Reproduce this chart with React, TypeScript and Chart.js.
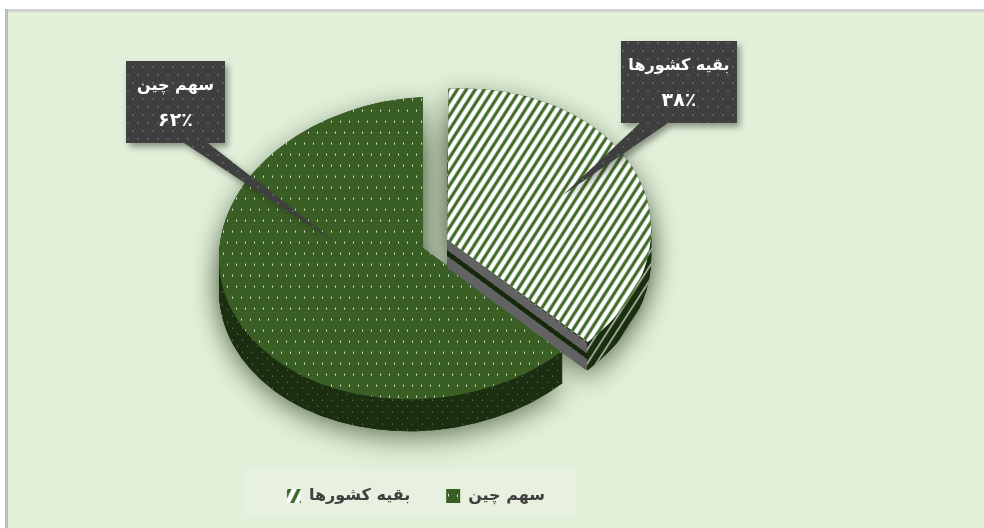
import React, { useEffect, useRef } from "react";
import { Chart, registerables } from "chart.js";

Chart.register(...registerables);

const categories = ["سهم چین", "بقیه کشورها"];
const shares = [62, 38];

const TILT = 0.74;
const SHEAR = -0.05;
const DEPTH = [32, 28];
const BG = "#e2efd9";
const FONT = "'DejaVu Sans'";

function tile(w: number, h: number, paint: (c: CanvasRenderingContext2D) => void) {
  const cv = document.createElement("canvas");
  cv.width = w;
  cv.height = h;
  const c = cv.getContext("2d")!;
  paint(c);
  return cv;
}

function dots(base: string, dot: string, w: number, h: number, dw: number, dh: number) {
  return tile(w, h, (c) => {
    c.fillStyle = base;
    c.fillRect(0, 0, w, h);
    c.fillStyle = dot;
    c.fillRect(2, 2, dw, dh);
    c.fillRect(2 + Math.round(w / 2), 2 + Math.round(h / 2), dw, dh);
  });
}

function stripes(base: string, line: string, lw: number) {
  const W = 27, H = 42;
  return tile(W, H, (c) => {
    c.fillStyle = base;
    c.fillRect(0, 0, W, H);
    c.strokeStyle = line;
    c.lineWidth = lw;
    for (let k = -3; k <= 6; k++) {
      const s = (k * W) / 3;
      c.beginPath();
      c.moveTo(s - W, H * 2);
      c.lineTo(s + W * 2, -H);
      c.stroke();
    }
  });
}

function App() {
  const ref = useRef<HTMLCanvasElement>(null);
  useEffect(() => {
    const ctx = ref.current!.getContext("2d")!;
    const flat = new DOMMatrix([1, SHEAR, 0, TILT, 0, 0]).inverse();
    const mk = (cv: HTMLCanvasElement, tilted = true) => {
      const p = ctx.createPattern(cv, "repeat")!;
      if (tilted) p.setTransform(flat);
      return p;
    };
    const topGreen = mk(dots("#3a5f24", "rgba(255,255,255,0.85)", 9, 22, 1, 2));
    const topWhite = mk(stripes("#ffffff", "#3f6a28", 3.2));
    const sideGreen = mk(dots("#1b2f10", "rgba(200,210,190,0.55)", 10, 12, 1, 1));
    const sideWhite = mk(stripes("#1b2f10", "#c8d4c0", 1.4));
    const boxFill = mk(dots("#3f3f3f", "#5c5c5c", 10, 16, 2, 2), false);

    const tilted = {
      id: "tilted",
      afterLayout(chart: any) {
        chart.legend.left -= 7;
        chart.legend.right -= 7;
      },
      beforeDraw(chart: any) {
        const c = chart.ctx;
        c.save();
        c.fillStyle = "#ffffff";
        c.fillRect(0, 0, 984, 528);
        c.fillStyle = "#d2d2d2";
        c.fillRect(5, 9, 979, 3);
        c.fillStyle = "#bdbdbd";
        c.fillRect(5, 9, 3, 519);
        c.fillStyle = BG;
        c.fillRect(8, 12, 976, 516);
        c.fillStyle = "#e8f1e0";
        c.fillRect(245, 470, 332, 46);
        c.restore();
      },
      beforeDatasetsDraw(chart: any) {
        const c = chart.ctx;
        const arcs = chart.getDatasetMeta(0).data;
        const cx = arcs[0].x;
        const cy = arcs[0].y;
        const paint = (el: any, color: any, dy: number) => {
          const o = el.options.offset || 0;
          const fix = 1 - Math.sin(Math.min(Math.PI, el.circumference || 0));
          const p = Object.create(el);
          p.options = { ...el.options, backgroundColor: color, borderWidth: 0 };
          p.y = el.y + dy / TILT;
          p.outerRadius = el.outerRadius - (o / 4) * fix;
          el.draw.call(p, c);
        };
        c.save();
        c.translate(cx, cy);
        c.transform(1, SHEAR, 0, TILT, 0, 0);
        c.translate(-cx, -cy);

        arcs.forEach((el: any, i: number) => {
          c.save();
          c.shadowColor = "rgba(40,60,30,0.6)";
          c.shadowBlur = 26;
          c.shadowOffsetY = 8;
          paint(el, "#1b2f10", DEPTH[i]);
          paint(el, "#1b2f10", 0);
          c.restore();
        });

        const [green, white] = arcs;
        for (let d = DEPTH[0]; d > 0; d--) paint(green, sideGreen, d);
        paint(green, topGreen, 0);

        for (let d = DEPTH[1]; d > 0; d--) paint(white, sideWhite, d);
        // cut face of the exploded slice, from the arc element's own geometry
        const o = white.options.offset / 4;
        const mid = (white.startAngle + white.endAngle) / 2;
        const ax = white.x + Math.cos(mid) * o;
        const ay = white.y + Math.sin(mid) * o;
        const tx = ax + Math.cos(white.endAngle) * white.outerRadius;
        const ty = ay + Math.sin(white.endAngle) * white.outerRadius;
        const band = (from: number, to: number, col: string) => {
          const f = (from * DEPTH[1]) / TILT;
          const t = (to * DEPTH[1]) / TILT;
          c.fillStyle = col;
          c.beginPath();
          c.moveTo(ax, ay + f);
          c.lineTo(tx, ty + f);
          c.lineTo(tx, ty + t);
          c.lineTo(ax, ay + t);
          c.closePath();
          c.fill();
        };
        band(0, 0.38, "#626262");
        band(0.38, 0.58, "#16280c");
        band(0.58, 1, "#626262");
        paint(white, topWhite, 0);
        c.restore();
        return false;
      },
      afterDraw(chart: any) {
        const c = chart.ctx;
        const persian = (v: number) => String(v).replace(/\d/g, (d) => "۰۱۲۳۴۵۶۷۸۹"[+d]);
        const callout = (i: number, x0: number, y0: number, x1: number, y1: number, b0: number, b1: number, tipX: number, tipY: number) => {
          c.save();
          c.shadowColor = "rgba(30,40,25,0.45)";
          c.shadowBlur = 6;
          c.shadowOffsetX = 3;
          c.shadowOffsetY = 4;
          c.fillStyle = boxFill;
          c.beginPath();
          c.moveTo(x0, y0);
          c.lineTo(x1, y0);
          c.lineTo(x1, y1);
          c.lineTo(b1, y1);
          c.lineTo(tipX, tipY);
          c.lineTo(b0, y1);
          c.lineTo(x0, y1);
          c.closePath();
          c.fill();
          c.restore();
          c.save();
          c.fillStyle = "#ffffff";
          c.textAlign = "center";
          c.textBaseline = "middle";
          c.direction = "rtl";
          const mx = (x0 + x1) / 2;
          c.font = `bold 16px ${FONT}`;
          c.fillText(categories[i], mx, y0 + 25);
          c.font = `bold 19px ${FONT}`;
          c.fillText(`${persian(shares[i])}٪`, mx, y0 + 60);
          c.restore();
        };
        callout(0, 126, 61, 225, 143, 184, 208, 335, 242);
        callout(1, 621, 41, 737, 123, 640, 668, 563, 195);
      },
    };

    const chart = new Chart(ctx, {
      type: "pie",
      data: {
        labels: categories,
        datasets: [
          {
            data: shares,
            backgroundColor: [topGreen, topWhite],
            borderWidth: 0,
            offset: [0, 104],
            radius: 204,
          } as any,
        ],
      },
      options: {
        responsive: false,
        animation: false,
        rotation: (shares[1] / 100) * 360,
        layout: { padding: { top: 44, left: 0, right: 138, bottom: 14 } },
        plugins: {
          tooltip: { enabled: false },
          legend: {
            position: "bottom",
            reverse: true,
            labels: {
              boxWidth: 14,
              boxHeight: 14,
              padding: 36,
              color: "#404040",
              font: { family: FONT, size: 16, weight: "bold" },
            },
          },
        },
      },
      plugins: [tilted as any],
    });
    return () => chart.destroy();
  }, []);
  return (
    <div style={{ position: "fixed", left: 0, top: 0, width: 984, height: 528 }}>
      <canvas ref={ref} width={984} height={528} style={{ display: "block" }} />
    </div>
  );
}

export default App;
